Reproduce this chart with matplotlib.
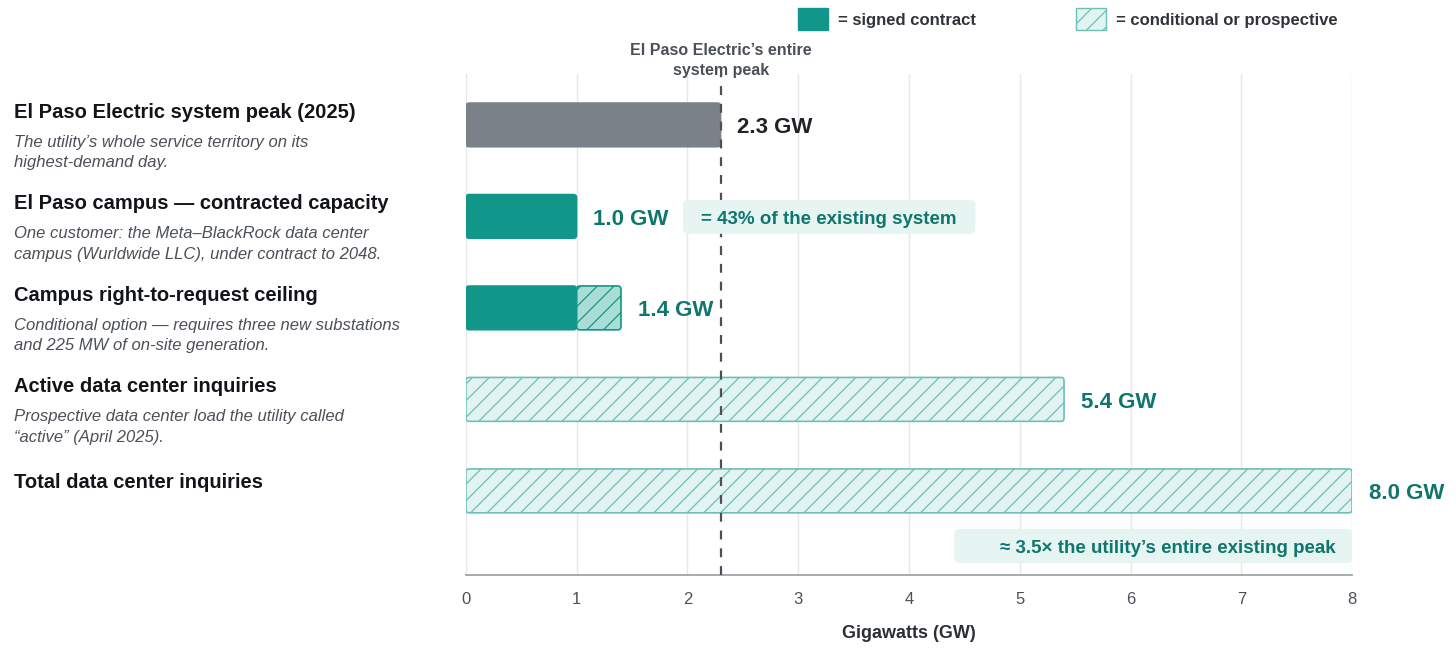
import matplotlib.pyplot as plt
import matplotlib.transforms as mtransforms
from matplotlib.patches import Patch, FancyBboxPatch

plt.rcParams['font.family'] = ['Liberation Sans', 'DejaVu Sans']
plt.rcParams['hatch.linewidth'] = 0.9

# data
titles = [
    'El Paso Electric system peak (2025)',
    'El Paso campus \u2014 contracted capacity',
    'Campus right-to-request ceiling',
    'Active data center inquiries',
    'Total data center inquiries',
]
subtitles = [
    'The utility\u2019s whole service territory on its\nhighest-demand day.',
    'One customer: the Meta\u2013BlackRock data center\ncampus (Wurldwide LLC), under contract to 2048.',
    'Conditional option \u2014 requires three new substations\nand 225 MW of on-site generation.',
    'Prospective data center load the utility called\n\u201cactive\u201d (April 2025).',
    '',
]
peak = [2.3, 0, 0, 0, 0]
signed = [0, 1.0, 1.0, 0, 0]
conditional = [0, 0, 0.4, 5.4, 8.0]
totals = [2.3, 1.0, 1.4, 5.4, 8.0]
system_peak = 2.3

TEAL = '#11968a'
TEAL_TXT = '#0f766e'
GRAY = '#7b8189'
LIGHT = '#e2f4f1'
LIGHT_EDGE = '#6cc0b5'
MID = '#a9ddd6'
DARK = '#1f2328'
SUB = '#4b5058'

fig = plt.figure(figsize=(14.56, 6.52), dpi=100)
ax = fig.add_axes([0.32, 0.118, 0.6086, 0.769])

ypos = list(range(len(titles)))
h = 0.48


def rounded_bar(y, width, left=0, **kw):
    # bar with slightly rounded corners
    p = FancyBboxPatch((left, y - h / 2), width, h,
                       boxstyle='round,pad=0,rounding_size=0.03',
                       mutation_aspect=1.2, zorder=3, **kw)
    ax.add_patch(p)


for y in ypos:
    if peak[y] > 0:
        rounded_bar(y, peak[y], facecolor=GRAY, edgecolor=GRAY, linewidth=1)
    if signed[y] > 0:
        rounded_bar(y, signed[y], facecolor=TEAL, edgecolor=TEAL, linewidth=1)
    if conditional[y] > 0:
        if signed[y] > 0:
            rounded_bar(y, conditional[y], left=signed[y], facecolor=MID,
                        edgecolor=TEAL, hatch='//', linewidth=1.2)
        else:
            rounded_bar(y, conditional[y], left=signed[y], facecolor=LIGHT,
                        edgecolor=LIGHT_EDGE, hatch='//', linewidth=1.2)

# value labels
for y, t in zip(ypos, totals):
    col = DARK if peak[y] > 0 else TEAL_TXT
    ax.annotate(f'{t:.1f} GW', xy=(t, y), xytext=(12, -2), textcoords='offset points',
                ha='left', va='center', fontsize=16, fontweight='bold', color=col, zorder=5)

# system peak line
ax.axvline(system_peak, color='#4b5058', linestyle=(0, (4, 4)), linewidth=1.6, zorder=4)
ax.annotate('El Paso Electric\u2019s entire\nsystem peak', xy=(system_peak, 1.0),
            xycoords=('data', 'axes fraction'), xytext=(0, -3), textcoords='offset points',
            ha='center', va='bottom', fontsize=11.5, fontweight='bold', color=SUB,
            linespacing=1.4)

# callout boxes (drawn over the dashed line)
box1 = FancyBboxPatch((1.96, 0.82), 2.64, 0.37, boxstyle='round,pad=0,rounding_size=0.06',
                      facecolor='#e6f4f2', edgecolor='none', zorder=4.5, mutation_aspect=0.8)
ax.add_patch(box1)
ax.text(3.28, 1.035, '= 43% of the existing system', ha='center', va='center',
        fontsize=13.5, fontweight='bold', color=TEAL_TXT, zorder=5)
box2 = FancyBboxPatch((4.41, 4.415), 3.59, 0.375, boxstyle='round,pad=0,rounding_size=0.06',
                      facecolor='#e6f4f2', edgecolor='none', zorder=4.5, mutation_aspect=0.8)
ax.add_patch(box2)
ax.text(7.85, 4.625, '\u2248 3.5\u00d7 the utility\u2019s entire existing peak', ha='right',
        va='center', fontsize=13.5, fontweight='bold', color=TEAL_TXT, zorder=5)

# left-hand labels
trans = mtransforms.blended_transform_factory(fig.transFigure, ax.transData)
for y, t, s in zip(ypos, titles, subtitles):
    off = -0.14 if s else -0.09
    ax.text(0.0096, y + off, t, transform=trans, ha='left', va='center',
            fontsize=14.5, fontweight='bold', color='#111418')
    if s:
        ax.text(0.0096, y + 0.11, s, transform=trans, ha='left', va='top',
                fontsize=12, fontstyle='italic', color=SUB, linespacing=1.44)

ax.set_xlim(0, 8)
ax.set_ylim(4.92, -0.56)
ax.set_xticks(range(0, 9))
ax.set_yticks([])
ax.grid(axis='x', color='#e6e7e9', linewidth=1, zorder=0)
ax.set_axisbelow(True)
for side in ['top', 'right', 'left']:
    ax.spines[side].set_visible(False)
ax.spines['bottom'].set_color('#a0a4aa')
ax.spines['bottom'].set_linewidth(1.3)
ax.tick_params(axis='x', length=0, pad=12, labelsize=12, labelcolor=SUB)
ax.set_xlabel('Gigawatts (GW)', fontsize=13, fontweight='bold', color='#2b2f35', labelpad=13)

handles = [Patch(facecolor=TEAL, edgecolor=TEAL),
           Patch(facecolor=LIGHT, edgecolor=LIGHT_EDGE, hatch='//')]
fig.legend(handles, ['= signed contract', '= conditional or prospective'],
           loc='upper right', bbox_to_anchor=(0.929, 1.01), ncol=2, frameon=False,
           handlelength=1.8, handleheight=1.6, handletextpad=0.6, columnspacing=6.0,
           prop={'size': 12, 'weight': 'bold'}, labelcolor='#30343a')

fig.savefig('out.png', dpi=100)
